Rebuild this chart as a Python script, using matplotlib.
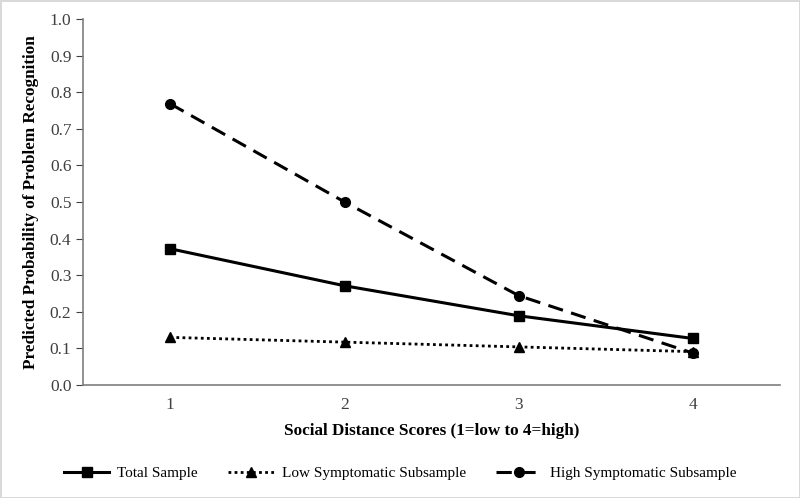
import matplotlib
matplotlib.use('Agg')
import matplotlib.pyplot as plt

x = [1, 2, 3, 4]
total = [0.372, 0.271, 0.189, 0.127]
low = [0.130, 0.117, 0.104, 0.091]
high = [0.768, 0.500, 0.244, 0.087]
yticks = [0.0, 0.1, 0.2, 0.3, 0.4, 0.5, 0.6, 0.7, 0.8, 0.9, 1.0]

plt.rcParams['font.family'] = ['Liberation Serif', 'DejaVu Serif']

fig = plt.figure(figsize=(8, 4.98), dpi=100)
fig.patch.set_edgecolor('#d9d9d9')
fig.patch.set_linewidth(2)
ax = fig.add_axes([0.104, 0.227, 0.871, 0.735])

ax.plot(x, total, color='black', lw=2.2, marker='s', ms=7, label='Total Sample')
ax.plot(x, low, color='black', lw=2.0, ls=(0, (1, 1.2)), marker='^', ms=7,
        label='Low Symptomatic Subsample')
ax.plot(x, high, color='black', lw=2.2, ls=(0, (5, 2.8)), marker='o', ms=7,
        label='High Symptomatic Subsample')

ax.set_xlim(0.5, 4.5)
ax.set_ylim(0, 1.0)
ax.set_xticks(x)
ax.set_yticks(yticks)
ax.set_yticklabels([f"{v:.1f}" for v in yticks])
ax.tick_params(axis='x', length=0, labelsize=12.5, pad=9, colors='#404040')
ax.tick_params(axis='y', length=5, labelsize=12.5, colors='#404040', direction='out')
for s in ['top', 'right']:
    ax.spines[s].set_visible(False)
for s in ['left', 'bottom']:
    ax.spines[s].set_color('#7f7f7f')
    ax.spines[s].set_linewidth(1.2)

ax.set_xlabel('Social Distance Scores (1=low to 4=high)', fontsize=12.3,
              fontweight='bold', labelpad=7)
ax.set_ylabel('Predicted Probability of Problem Recognition', fontsize=12.3,
              fontweight='bold', labelpad=8)

fig.legend(loc='center', bbox_to_anchor=(0.5, 0.05), ncol=3, frameon=False,
           fontsize=11, handlelength=3.0, handletextpad=0.5, columnspacing=2.0)

fig.savefig('out.png', dpi=100)
